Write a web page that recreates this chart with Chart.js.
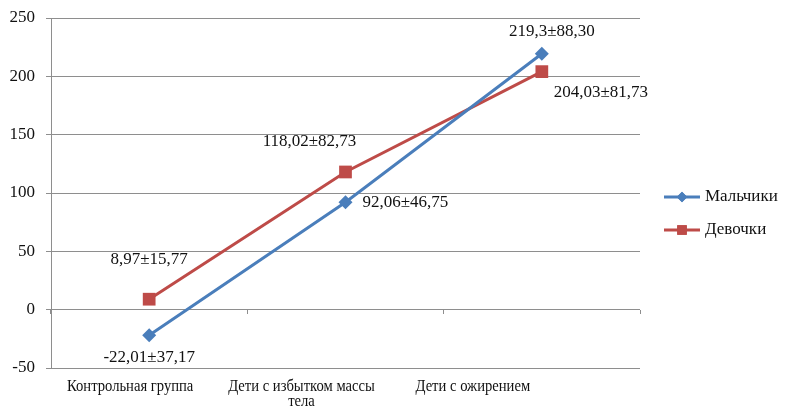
<!DOCTYPE html>
<html>
<head>
<meta charset="utf-8">
<script src="https://cdn.jsdelivr.net/npm/chart.js@4/dist/chart.umd.min.js"></script>
<style>
    html, body { margin: 0; padding: 0; background: #ffffff; }
    #wrap { width: 785px; height: 409px; }
</style>
</head>
<body>
<div id="wrap"><canvas id="chart" width="785" height="409"></canvas></div>
<script>
// ====== Data ======
const categories = ['Контрольная группа', ['Дети с избытком массы', 'тела'], 'Дети с ожирением'];
const boysValues = [-22.01, 92.06, 219.3];
const girlsValues = [8.97, 118.02, 204.03];
const boysLabels = ['-22,01±37,17', '92,06±46,75', '219,3±88,30'];
const girlsLabels = ['8,97±15,77', '118,02±82,73', '204,03±81,73'];
const yTicks = [-50, 0, 50, 100, 150, 200, 250];

// ====== Styles ======
const BLUE = '#4a7ebb';
const RED = '#be4b48';
const GRID = '#8e8e8e';
const TEXT = '#111111';
const SERIF = '"Liberation Serif", "DejaVu Serif", serif';

// label placement relative to each point: [dx, dy, align]
const boysOffsets = [[0, 22, 'center'], [17, 0, 'left'], [10, -22, 'center']];
const girlsOffsets = [[0, -40, 'center'], [-36, -30, 'center'], [59, 21, 'center']];
// category labels sit a bit left of the category centre in the original
const catShift = [-19, -44, -69];

// ====== Plugins ======
const valueLabels = {
    id: 'valueLabels',
    afterDatasetsDraw(chart) {
        const ctx = chart.ctx;
        ctx.save();
        ctx.font = '17px ' + SERIF;
        ctx.fillStyle = TEXT;
        ctx.textBaseline = 'middle';
        chart.data.datasets.forEach((ds, i) => {
            const meta = chart.getDatasetMeta(i);
            meta.data.forEach((pt, j) => {
                const [dx, dy, align] = ds.offsets[j];
                ctx.textAlign = align;
                ctx.fillText(ds.texts[j], pt.x + dx, pt.y + dy);
            });
        });
        ctx.restore();
    }
};

const categoryLabels = {
    id: 'categoryLabels',
    afterDraw(chart) {
        const ctx = chart.ctx;
        const xs = chart.scales.x;
        ctx.save();
        ctx.font = '17px ' + SERIF;
        ctx.fillStyle = TEXT;
        ctx.textAlign = 'center';
        ctx.textBaseline = 'middle';
        chart.data.labels.forEach((lbl, i) => {
            const lines = Array.isArray(lbl) ? lbl : [lbl];
            const cx = xs.getPixelForValue(i) + catShift[i];
            lines.forEach((line, k) => {
                ctx.save();
                ctx.translate(cx, xs.top + 19 + k * 15);
                ctx.scale(0.86, 1);
                ctx.fillText(line, 0, 0);
                ctx.restore();
            });
        });
        ctx.restore();
    }
};

const sideLegend = {
    id: 'sideLegend',
    afterDraw(chart) {
        const ctx = chart.ctx;
        const x0 = 664, x1 = 700;
        const rows = [197, 230];
        ctx.save();
        chart.data.datasets.forEach((ds, i) => {
            const y = rows[i];
            ctx.strokeStyle = ds.borderColor;
            ctx.lineWidth = 3;
            ctx.beginPath();
            ctx.moveTo(x0, y);
            ctx.lineTo(x1, y);
            ctx.stroke();
            ctx.fillStyle = ds.borderColor;
            Chart.helpers.drawPoint(ctx, {
                pointStyle: ds.pointStyle,
                radius: ds.pointRadius * 0.75,
                borderWidth: 0
            }, (x0 + x1) / 2, y);
            ctx.fill();
            ctx.fillStyle = TEXT;
            ctx.font = '17px ' + SERIF;
            ctx.textAlign = 'left';
            ctx.textBaseline = 'middle';
            ctx.fillText(ds.label, x1 + 5, y);
        });
        ctx.restore();
    }
};

// ====== Chart ======
new Chart(document.getElementById('chart'), {
    type: 'line',
    data: {
        labels: categories,
        datasets: [
            {
                label: 'Мальчики',
                data: boysValues,
                texts: boysLabels,
                offsets: boysOffsets,
                borderColor: BLUE,
                backgroundColor: BLUE,
                borderWidth: 3,
                pointStyle: 'rectRot',
                pointRadius: 7,
                pointBorderWidth: 0,
                tension: 0
            },
            {
                label: 'Девочки',
                data: girlsValues,
                texts: girlsLabels,
                offsets: girlsOffsets,
                borderColor: RED,
                backgroundColor: RED,
                borderWidth: 3,
                pointStyle: 'rect',
                pointRadius: 9,
                pointBorderWidth: 0,
                tension: 0
            }
        ]
    },
    options: {
        responsive: false,
        animation: false,
        layout: { padding: { top: 18, right: 145, left: 0, bottom: 0 } },
        plugins: {
            legend: { display: false },
            tooltip: { enabled: false }
        },
        scales: {
            x: {
                offset: true,
                grid: { display: false },
                border: { display: false },
                ticks: { display: false },
                afterFit(scale) { scale.height = 41; }
            },
            xZero: {
                type: 'category',
                axis: 'x',
                position: { y: 0 },
                offset: true,
                grid: {
                    offset: true,
                    drawOnChartArea: false,
                    drawTicks: true,
                    tickLength: 4,
                    color: GRID
                },
                border: { display: false },
                ticks: { display: false }
            },
            y: {
                min: -50,
                max: 250,
                afterBuildTicks(scale) {
                    scale.ticks = yTicks.map(v => ({ value: v }));
                },
                grid: { color: GRID, lineWidth: 1, tickLength: 5 },
                border: { color: GRID, width: 1 },
                ticks: {
                    color: TEXT,
                    font: { family: SERIF, size: 17 },
                    padding: 11
                },
                afterFit(scale) {
                    scale.width = 51;
                    scale.paddingTop = 0;
                    scale.paddingBottom = 0;
                }
            }
        }
    },
    plugins: [valueLabels, categoryLabels, sideLegend]
});
</script>
</body>
</html>
